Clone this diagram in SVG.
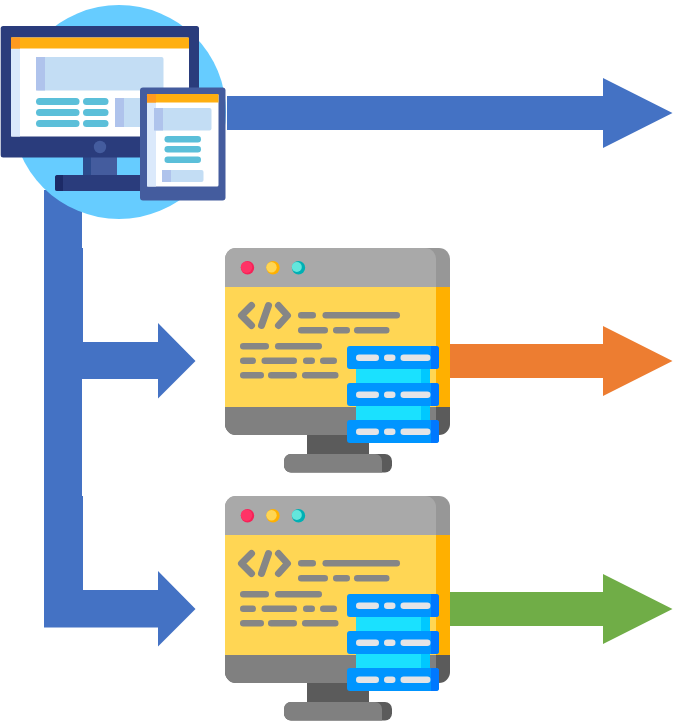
<svg xmlns="http://www.w3.org/2000/svg" xmlns:xlink="http://www.w3.org/1999/xlink" width="681" height="722" viewBox="0 0 681 722">
<style>
.blue{fill:#4472c4}
.orange{fill:#ed7d31}
.green{fill:#70ad47}
.teal{fill:#5bbfd9}
.hdr{fill:#ffaf10}
.hdrd{fill:#ff9a1f}
.side{fill:#dbe9fb}
.blk{fill:#c3ddf4}
.blkd{fill:#afc3ec}
.navy{fill:#2a3c7c}
.tab{fill:#445c9e}
.code{fill:#868686}
.pill{fill:#e4e4e6}
.srv{fill:#0095ff}
.srvd{fill:#0078ff}
</style>
<defs>
<g id="srvrow">
<rect class="srv" x="347" y="346" width="92" height="23" rx="3"/>
<path class="srvd" d="M431 346h5a3 3 0 0 1 3 3v17a3 3 0 0 1-3 3h-5z"/>
<rect class="pill" x="356" y="354.5" width="23" height="6.5" rx="3.2"/>
<rect class="pill" x="384" y="354.5" width="11.500" height="6.5" rx="3.2"/>
<rect class="pill" x="400.500" y="354.5" width="30" height="6.5" rx="3.2"/>
</g>
<g id="pc">
<rect x="307" y="433" width="62" height="23" fill="#5b5b5b"/>
<rect x="284" y="454" width="108" height="18.500" rx="7" fill="#5b5b5b"/>
<path d="M291 454h84a7 7 0 0 1 7 7v11.500h-91a7 7 0 0 1-7-7v-4.500a7 7 0 0 1 7-7z" fill="#808080"/>
<path d="M225 407h225v17a11 11 0 0 1-11 11H236a11 11 0 0 1-11-11z" fill="#5b5b5b"/>
<path d="M225 407h211v28H236a11 11 0 0 1-11-11z" fill="#808080"/>
<path d="M236 248h203a11 11 0 0 1 11 11v28H225v-28a11 11 0 0 1 11-11z" fill="#979797"/>
<path d="M236 248h189a11 11 0 0 1 11 11v28H225v-28a11 11 0 0 1 11-11z" fill="#a9a9a9"/>
<rect x="225" y="287" width="211" height="120" fill="#ffd654"/>
<rect x="436" y="287" width="14" height="120" fill="#ffb000"/>
<circle cx="247.500" cy="267.700" r="6.700" fill="#f52258"/>
<circle cx="246.500" cy="267.200" r="5.700" fill="#ff3366"/>
<circle cx="273" cy="267.700" r="6.700" fill="#ffb000"/>
<circle cx="271.500" cy="267.200" r="5.200" fill="#ffd654"/>
<circle cx="298.500" cy="267.700" r="6.700" fill="#00b0b4"/>
<circle cx="296.800" cy="267" r="5" fill="#63e6dc"/>
<g fill="none" stroke="#868686" stroke-width="7" stroke-linecap="round" stroke-linejoin="round">
<path d="M251.500 305.500L241.500 315.500L251.500 325.500"/>
<path d="M268.500 305.500L261.500 325.500"/>
<path d="M278.500 305.500L287.500 315.500L278.500 325.500"/>
</g>
<g class="code">
<rect x="298" y="312" width="18" height="6.500" rx="3.200"/>
<rect x="322.500" y="312" width="77.500" height="6.500" rx="3.200"/>
<rect x="298" y="327" width="30" height="6.500" rx="3.200"/>
<rect x="333" y="327" width="17" height="6.500" rx="3.200"/>
<rect x="354" y="327" width="35.500" height="6.500" rx="3.200"/>
<rect x="240" y="343" width="29" height="6.500" rx="3.200"/>
<rect x="275" y="343" width="47" height="6.500" rx="3.200"/>
<rect x="240" y="357.500" width="16" height="6.500" rx="3.200"/>
<rect x="261.500" y="357.500" width="35.500" height="6.500" rx="3.200"/>
<rect x="303" y="357.500" width="12" height="6.500" rx="3.200"/>
<rect x="320" y="357.500" width="17" height="6.500" rx="3.200"/>
<rect x="240" y="372" width="24" height="6.500" rx="3.200"/>
<rect x="268" y="372" width="29" height="6.500" rx="3.200"/>
<rect x="302" y="372" width="36.500" height="6.500" rx="3.200"/>
</g>
<rect x="356" y="369" width="74" height="51" fill="#1ae1ff"/>
<rect x="421" y="369" width="9" height="51" fill="#00c8ff"/>
<use href="#srvrow"/>
<use href="#srvrow" y="37"/>
<use href="#srvrow" y="74"/>
</g>
</defs>

<g id="connectors">
<path id="branch" class="blue" d="M44 190H82V248H83V342H158V323L195.500 361L158 398.500V379H82V496H83V590H158V571L195.500 609L158 646.500V627.500H44Z"/>
<path id="arrow-top" class="blue" d="M227 96H603V78L672.500 113L603 148V130H227Z"/>
<path id="arrow-orange" class="orange" d="M450 344H603V326L672.500 361L603 396V378H450Z"/>
<path id="arrow-green" class="green" d="M450 592H603V574L672.500 609L603 644V626H450Z"/>
</g>

<g id="devices">
<circle cx="119" cy="112" r="107" fill="#66ccff"/>
<rect x="83" y="155" width="34" height="22" fill="#445c9e"/>
<rect x="83" y="155" width="8" height="22" fill="#2c4a8c"/>
<rect x="55" y="175" width="110" height="16" rx="2.500" class="navy"/>
<path d="M63 175v16h-5.500a2.500 2.500 0 0 1-2.500-2.500v-11a2.500 2.500 0 0 1 2.500-2.500z" fill="#1c2a66"/>
<rect x="0.700" y="26" width="198.300" height="131.500" rx="2.500" class="navy"/>
<rect x="11" y="37.500" width="178" height="99" rx="1.500" fill="#fff"/>
<rect x="11" y="48" width="9" height="88.500" class="side"/>
<rect x="11" y="37.500" width="178" height="11" class="hdr"/>
<rect x="11" y="37.500" width="9" height="11" class="hdrd"/>
<rect x="36" y="57" width="127.500" height="33.500" rx="2" class="blk"/>
<rect x="36" y="57" width="9" height="33.500" class="blkd"/>
<g class="teal">
<rect x="36" y="98" width="43.500" height="7" rx="3.500"/>
<rect x="83" y="98" width="25.500" height="7" rx="3.500"/>
<rect x="36" y="109" width="43.500" height="7" rx="3.500"/>
<rect x="83" y="109" width="25.500" height="7" rx="3.500"/>
<rect x="36" y="120" width="43.500" height="7" rx="3.500"/>
<rect x="83" y="120" width="25.500" height="7" rx="3.500"/>
</g>
<rect x="115" y="98" width="30" height="29" rx="1.500" class="blk"/>
<rect x="115" y="98" width="9" height="29" class="blkd"/>
<circle cx="100" cy="147" r="6.200" fill="#445c9e"/>

<rect x="140" y="87.500" width="85.500" height="113" rx="3" class="tab"/>
<rect x="147" y="94" width="71.500" height="92.500" rx="1.500" fill="#fff"/>
<rect x="147" y="102" width="9" height="84.500" class="side"/>
<rect x="147" y="94" width="71.500" height="8.500" class="hdr"/>
<rect x="147" y="94" width="9" height="8.500" class="hdrd"/>
<rect x="154" y="108" width="57.500" height="22.500" rx="2" class="blk"/>
<rect x="154" y="108" width="9" height="22.500" class="blkd"/>
<g class="teal">
<rect x="164.500" y="136" width="36.500" height="6.500" rx="3.200"/>
<rect x="164.500" y="146" width="36.500" height="6.500" rx="3.200"/>
<rect x="164.500" y="156.500" width="36.500" height="6.500" rx="3.200"/>
</g>
<rect x="162" y="170" width="41.500" height="12" rx="2" class="blk"/>
<rect x="162" y="170" width="9" height="12" class="blkd"/>
</g>

<g id="computer-1"><use href="#pc"/></g>
<g id="computer-2" transform="translate(0,248)"><use href="#pc"/></g>
</svg>
